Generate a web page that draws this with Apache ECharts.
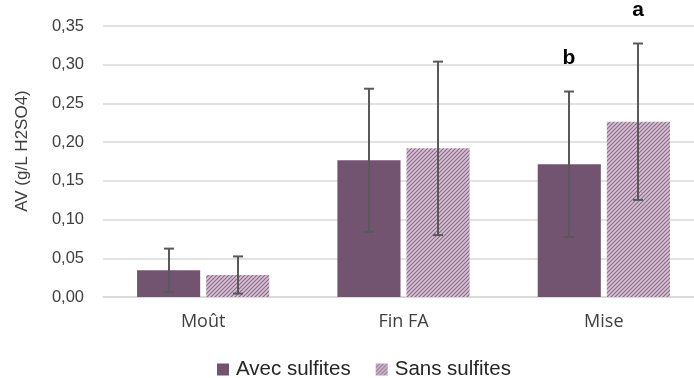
<!DOCTYPE html>
<html><head><meta charset="utf-8">
<script src="https://cdn.jsdelivr.net/npm/echarts@6/dist/echarts.min.js"></script>
<style>html,body{margin:0;padding:0;background:#fff;overflow:hidden;width:694px;height:378px}#c{width:704px;height:378px}</style>
</head><body><div id="c"></div>
<script>
const categories = ['Moût', 'Fin FA', 'Mise'];
const seriesNames = ['Avec sulfites', 'Sans sulfites'];
const avecValues = [0.0345, 0.1765, 0.1714];
const sansValues = [0.0284, 0.1920, 0.2264];
const avecErrors = [0.028, 0.0925, 0.094];
const sansErrors = [0.024, 0.112, 0.101];
const avecLetters = ['', '', 'b'];
const sansLetters = ['', '', 'a'];
const yTitle = 'AV (g/L H2SO4)';

const pc = document.createElement('canvas');
pc.width = 4; pc.height = 4;
const g = pc.getContext('2d');
g.fillStyle = '#d6c0d3'; g.fillRect(0,0,4,4);
g.strokeStyle = '#8a6a87'; g.lineWidth = 1.1;
g.beginPath();
g.moveTo(-1,5); g.lineTo(5,-1);
g.moveTo(-1,1); g.lineTo(1,-1);
g.moveTo(3,5); g.lineTo(5,3);
g.stroke();
const pattern = {image: pc, repeat: 'repeat'};

const chart = echarts.init(document.getElementById('c'), null, {renderer: 'canvas'});
const GAPCAT = 0.34, GAPBAR = 0.095;
const FONT = '"Liberation Sans", Arial, sans-serif';

function errSeries(vals, errs, letters, idx) {
  return {
    type: 'custom', name: seriesNames[idx] + ' err', z: 10, silent: true,
    data: vals.map((v, i) => [i, v - errs[i], v + errs[i]]),
    renderItem: function (params, api) {
      const band = api.size([1, 0])[0];
      const w = band * (1 - GAPCAT) / (2 + GAPBAR);
      const off = (idx === 0 ? -1 : 1) * w * (1 + GAPBAR) / 2;
      const lo = api.coord([api.value(0), api.value(1)]);
      const hi = api.coord([api.value(0), api.value(2)]);
      const x = Math.round(lo[0] + off);
      const cap = 5;
      const st = {stroke: '#595959', lineWidth: 2};
      const children = [
        {type: 'line', shape: {x1: x, y1: lo[1], x2: x, y2: hi[1]}, style: st},
        {type: 'line', shape: {x1: x - cap, y1: lo[1], x2: x + cap, y2: lo[1]}, style: st},
        {type: 'line', shape: {x1: x - cap, y1: hi[1], x2: x + cap, y2: hi[1]}, style: st}
      ];
      const letter = letters[params.dataIndex];
      if (letter) {
        children.push({type: 'text', style: {text: letter, x: x, y: hi[1] - 22.5, align: 'center', verticalAlign: 'bottom',
          font: 'bold 21px ' + FONT, fill: '#000'}});
      }
      return {type: 'group', children: children};
    }
  };
}

chart.setOption({
  animation: false,
  grid: {left: 103, right: 0, top: 26, bottom: 81},
  graphic: [{
    type: 'text', x: 22, y: 151, rotation: Math.PI / 2,
    style: {text: yTitle, align: 'center', verticalAlign: 'middle', font: '17px ' + FONT, fill: '#404040'}
  }],
  legend: {
    top: 354, left: 212, itemWidth: 12, itemHeight: 12, itemGap: 25,
    icon: 'rect', data: seriesNames,
    textStyle: {fontSize: 20.5, color: '#262626', fontFamily: FONT, padding: [0,0,0,2]}
  },
  xAxis: {
    type: 'category', data: categories,
    axisLine: {lineStyle: {color: '#d9d9d9', width: 1.5}},
    axisTick: {show: false},
    axisLabel: {fontSize: 18, color: '#404040', margin: 16, fontFamily: '"Open Sans", "Noto Sans", sans-serif'}
  },
  yAxis: {
    type: 'value', min: 0, max: 0.35, interval: 0.05,
    axisLabel: {fontSize: 16.5, color: '#404040', margin: 19, fontFamily: FONT,
      formatter: v => v.toFixed(2).replace('.', ',')},
    splitLine: {lineStyle: {color: '#d9d9d9', width: 1.5}},
    axisLine: {show: false}, axisTick: {show: false}
  },
  series: [
    {name: seriesNames[0], type: 'bar', data: avecValues, barCategoryGap: (GAPCAT*100)+'%', barGap: (GAPBAR*100)+'%',
      itemStyle: {color: '#725471'}},
    {name: seriesNames[1], type: 'bar', data: sansValues, barCategoryGap: (GAPCAT*100)+'%', barGap: (GAPBAR*100)+'%',
      itemStyle: {color: pattern}},
    errSeries(avecValues, avecErrors, avecLetters, 0),
    errSeries(sansValues, sansErrors, sansLetters, 1)
  ]
});
</script></body></html>
